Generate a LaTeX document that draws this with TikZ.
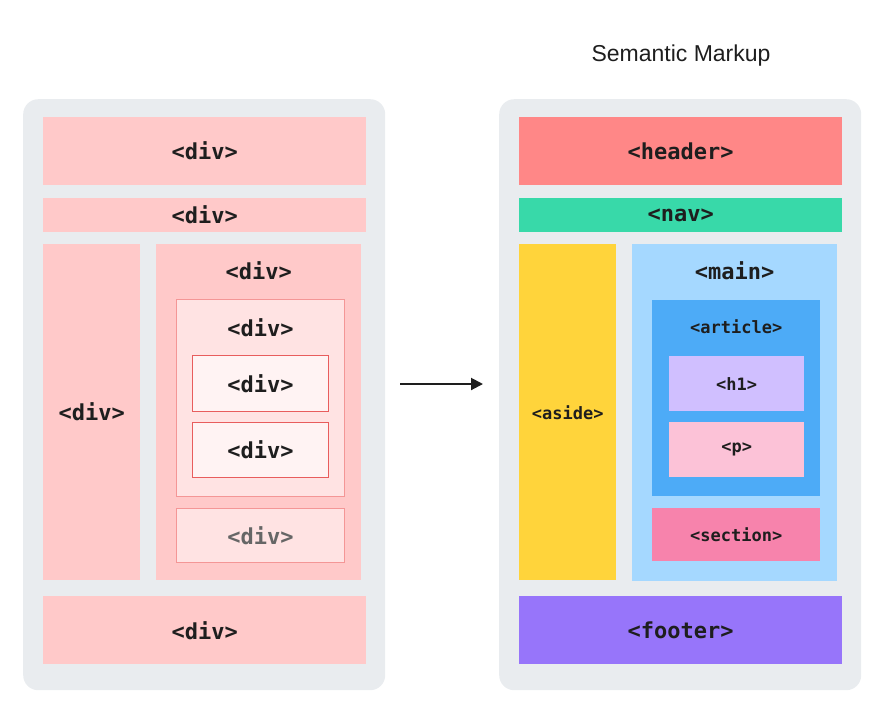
\documentclass[tikz,border=0pt]{standalone}
\usepackage{fontspec}
\setmainfont{Liberation Sans}
\setmonofont{DejaVu Sans Mono}
\definecolor{panelgray}{RGB}{233, 236, 239}
\definecolor{tagblack}{RGB}{30, 30, 30}
\definecolor{divpink}{RGB}{255, 201, 201}
\definecolor{divlight}{RGB}{255, 227, 227}
\definecolor{divwhite}{RGB}{255, 243, 243}
\definecolor{divline}{RGB}{244, 150, 150}
\definecolor{divdark}{RGB}{232, 93, 93}
\definecolor{headred}{RGB}{255, 135, 135}
\definecolor{navteal}{RGB}{56, 217, 169}
\definecolor{asideyellow}{RGB}{255, 212, 59}
\definecolor{mainblue}{RGB}{165, 216, 255}
\definecolor{articleblue}{RGB}{77, 171, 247}
\definecolor{hviolet}{RGB}{208, 191, 255}
\definecolor{ppink}{RGB}{252, 194, 215}
\definecolor{sectionpink}{RGB}{247, 131, 172}
\definecolor{footviolet}{RGB}{151, 117, 250}
\usetikzlibrary{arrows.meta, positioning}

\tikzset{
  panel/.style={fill=panelgray, rounded corners=15pt, anchor=north west, inner sep=0pt},
  tagbox/.style={anchor=north west, inner sep=0pt, text=tagblack,
    font=\ttfamily\bfseries\fontsize{22}{26}\selectfont},
  smalltag/.style={font=\ttfamily\bfseries\fontsize{17}{20}\selectfont},
  taglabel/.style={inner sep=0pt, text=tagblack,
    font=\ttfamily\bfseries\fontsize{22}{26}\selectfont},
  nested/.style={fill=divlight, draw=divline, line width=1pt},
  innermost/.style={fill=divwhite, draw=divdark, line width=1pt},
}

\begin{document}
\begin{tikzpicture}[x=1pt, y=-1pt]
  \useasboundingbox (0,0) rectangle (882,702);

  % Title
  \node[text=tagblack, font=\fontsize{23}{28}\selectfont] (title) at (681,56) {Semantic Markup};

  % Panels
  \node[panel, minimum width=362pt, minimum height=591pt] (lpanel) at (23,99) {};
  \node[panel, minimum width=362pt, minimum height=591pt] (rpanel) at (499,99) {};

  % Div soup (left)
  \node[tagbox, fill=divpink, minimum width=323pt, minimum height=68pt] (ldivhead) at (43,117) {<div>};
  \node[tagbox, fill=divpink, minimum width=323pt, minimum height=34pt] (ldivbar) at (43,198) {<div>};
  \node[tagbox, fill=divpink, minimum width=97pt, minimum height=336pt] (ldivside) at (43,244) {<div>};
  \node[tagbox, fill=divpink, minimum width=205pt, minimum height=336pt] (ldivmain) at (156,244) {};
  \node[taglabel] (ldivmainlabel) at ([yshift=-27pt]ldivmain.north) {<div>};
  \node[tagbox, nested, minimum width=168pt, minimum height=197pt] (ldivwrap) at (176,299) {};
  \node[taglabel] (ldivwraplabel) at ([yshift=-29pt]ldivwrap.north) {<div>};
  \node[tagbox, innermost, minimum width=136pt, minimum height=56pt] (ldivone) at (192,355) {<div>};
  \node[tagbox, innermost, minimum width=136pt, minimum height=55pt] (ldivtwo) at (192,422) {<div>};
  \node[tagbox, nested, text=black!60, minimum width=168pt, minimum height=54pt] (ldivextra) at (176,508) {<div>};
  \node[tagbox, fill=divpink, minimum width=323pt, minimum height=68pt] (ldivfoot) at (43,596) {<div>};

  % Arrow
  \coordinate (arrowstart) at (400,384);
  \coordinate (arrowend) at (483,384);
  \draw[-{Triangle[length=12pt, width=12pt]}, line width=2pt, tagblack] (arrowstart) -- (arrowend);

  % Semantic markup (right)
  \node[tagbox, fill=headred, minimum width=323pt, minimum height=68pt] (header) at (519,117) {<header>};
  \node[tagbox, fill=navteal, minimum width=323pt, minimum height=34pt] (nav) at (519,198) {<nav>};
  \node[tagbox, smalltag, fill=asideyellow, minimum width=97pt, minimum height=336pt] (aside) at (519,244) {<aside>};
  \node[tagbox, fill=mainblue, minimum width=205pt, minimum height=337pt] (main) at (632,244) {};
  \node[taglabel] (mainlabel) at ([yshift=-27pt]main.north) {<main>};
  \node[tagbox, fill=articleblue, minimum width=168pt, minimum height=196pt] (article) at (652,300) {};
  \node[taglabel, smalltag] (articlelabel) at ([yshift=-27pt]article.north) {<article>};
  \node[tagbox, smalltag, fill=hviolet, minimum width=135pt, minimum height=55pt] (hone) at (669,356) {<h1>};
  \node[tagbox, smalltag, fill=ppink, minimum width=135pt, minimum height=55pt] (para) at (669,422) {<p>};
  \node[tagbox, smalltag, fill=sectionpink, minimum width=168pt, minimum height=53pt] (section) at (652,508) {<section>};
  \node[tagbox, fill=footviolet, minimum width=323pt, minimum height=68pt] (footer) at (519,596) {<footer>};
\end{tikzpicture}
\end{document}
